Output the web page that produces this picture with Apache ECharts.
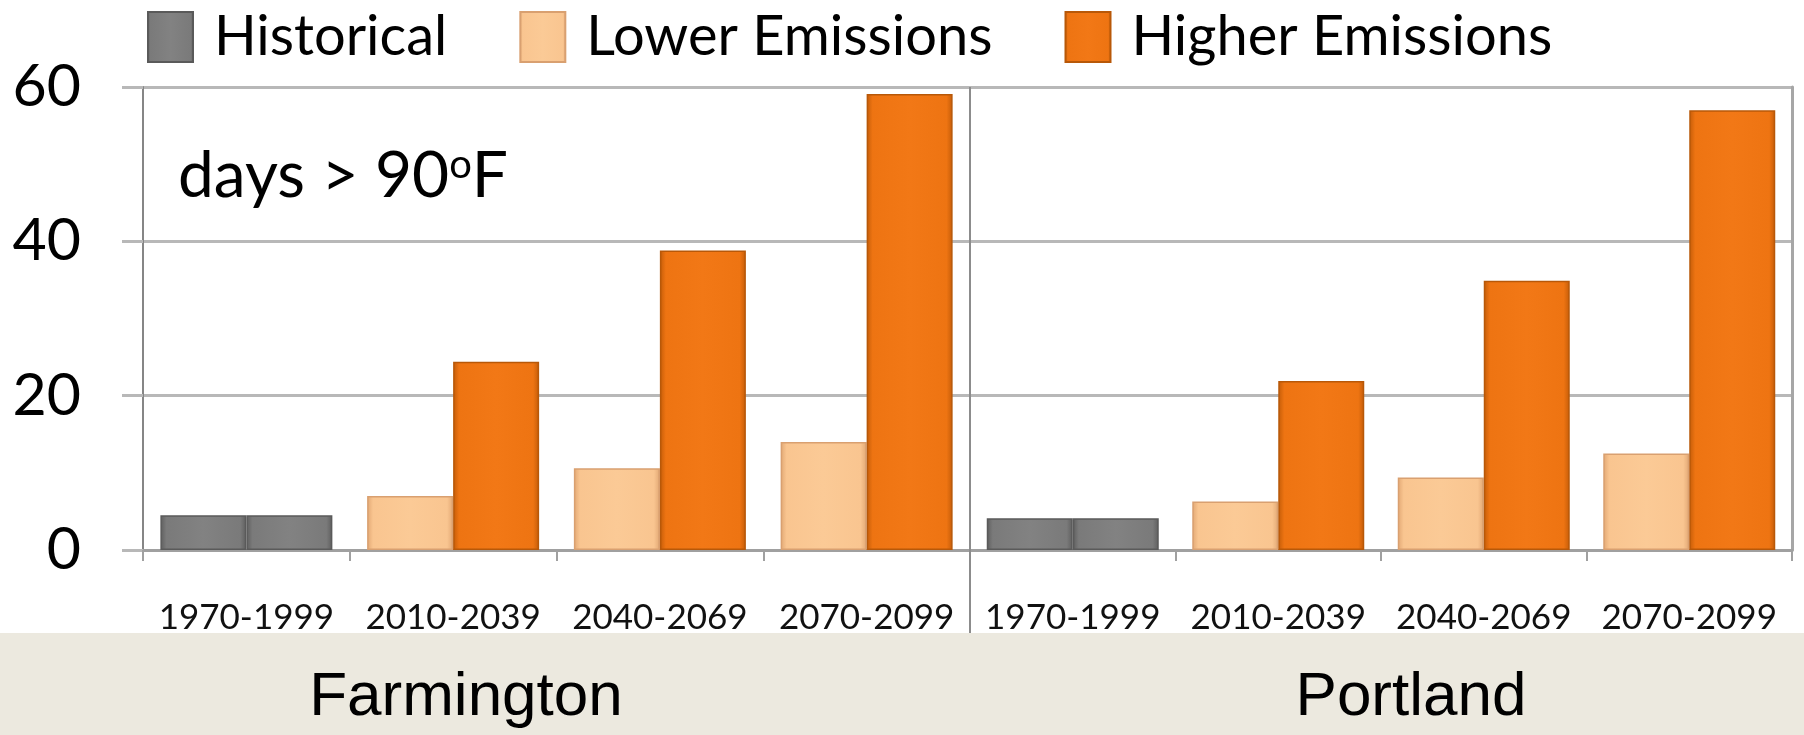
<!DOCTYPE html>
<html>
<head>
<meta charset="utf-8">
<script src="https://cdn.jsdelivr.net/npm/echarts@6/dist/echarts.min.js"></script>
<style>
  html, body { margin: 0; padding: 0; background: #ffffff; }
  #chart { width: 1804px; height: 735px; }
</style>
</head>
<body>
<div id="chart"></div>
<script>
// ---- data ----
const periods = ['1970-1999', '2010-2039', '2040-2069', '2070-2099'];
const cities = ['Farmington', 'Portland'];
const legendNames = ['Historical', 'Lower Emissions', 'Higher Emissions'];

const farmingtonHistorical = [4.5, null, null, null];
const farmingtonLower      = [null, 7.0, 10.6, 14.0];
const farmingtonHigher     = [null, 24.4, 38.8, 59.1];

const portlandHistorical   = [4.1, null, null, null];
const portlandLower        = [null, 6.3, 9.4, 12.5];
const portlandHigher       = [null, 21.9, 34.9, 57.0];

const yMin = 0, yMax = 60, yStep = 20;
const annotation = 'days > 90';

// ---- styles ----
function hGrad(edge, main, mid) {
  return new echarts.graphic.LinearGradient(0, 0, 1, 0, [
    { offset: 0, color: edge },
    { offset: 0.07, color: main },
    { offset: 0.5, color: mid },
    { offset: 0.93, color: main },
    { offset: 1, color: edge }
  ]);
}
const styles = {
  'Historical': { color: hGrad('#5e5e5e', '#7a7a7a', '#828282'), borderColor: '#5a5a5a' },
  'Lower Emissions': { color: hGrad('#e2a874', '#f9c590', '#fbca96'), borderColor: '#d9a070' },
  'Higher Emissions': { color: hGrad('#c45c08', '#ee7412', '#f27816'), borderColor: '#b85808' }
};

function bar(name, grid, stack, data) {
  return {
    type: 'bar', name: name, xAxisIndex: grid, yAxisIndex: grid, stack: stack + grid,
    data: data, barWidth: 86, barGap: '0%',
    itemStyle: { color: styles[name].color, borderColor: styles[name].borderColor, borderWidth: 1.5 },
    emphasis: { disabled: true }
  };
}

const series = [
  bar('Historical', 0, 'a', farmingtonHistorical),
  bar('Lower Emissions', 0, 'a', farmingtonLower),
  bar('Historical', 0, 'b', farmingtonHistorical),
  bar('Higher Emissions', 0, 'b', farmingtonHigher),
  bar('Historical', 1, 'a', portlandHistorical),
  bar('Lower Emissions', 1, 'a', portlandLower),
  bar('Historical', 1, 'b', portlandHistorical),
  bar('Higher Emissions', 1, 'b', portlandHigher)
];

const gridLine = { color: '#b8b8b8', width: 3 };
function xAxis(i) {
  return {
    type: 'category', gridIndex: i, data: periods,
    axisLine: { show: true, lineStyle: { color: '#a0a0a0', width: 3 } },
    axisTick: { show: true, length: 11, lineStyle: { color: '#a0a0a0', width: 2 } },
    axisLabel: { interval: 0, margin: 50, fontFamily: 'Lato', fontSize: 35, color: '#111111' }
  };
}
function yAxis(i) {
  return {
    type: 'value', gridIndex: i, min: yMin, max: yMax, interval: yStep,
    axisLine: { show: i === 0, lineStyle: { color: '#868686', width: 2 } },
    axisTick: { show: i === 0, length: 21, lineStyle: gridLine },
    splitLine: { show: true, lineStyle: gridLine },
    axisLabel: { show: i === 0, margin: 62, fontFamily: 'Lato', fontSize: 59, color: '#000000', padding: [20, 0, 0, 0] }
  };
}

const option = {
  animation: false,
  backgroundColor: '#ffffff',
  legend: {
    data: legendNames, left: 147, top: 9, padding: 0,
    icon: 'rect', itemWidth: 45, itemHeight: 50, itemGap: 72,
    textStyle: { fontFamily: 'Lato', fontSize: 56, color: '#000000', padding: [0, 0, 0, 16] },
    selectedMode: false
  },
  grid: [
    { left: 143, right: 834, top: 87, bottom: 185 },
    { left: 970, right: 12, top: 87, bottom: 185 }
  ],
  xAxis: [xAxis(0), xAxis(1)],
  yAxis: [yAxis(0), yAxis(1), {
    type: 'value', gridIndex: 1, position: 'right', min: yMin, max: yMax, interval: yStep,
    axisLine: { show: true, lineStyle: { color: '#a6a6a6', width: 3 } },
    axisTick: { show: false }, axisLabel: { show: false }, splitLine: { show: false }
  }],
  series: series,
  graphic: [
    { type: 'rect', z: -10, shape: { x: 0, y: 633, width: 1804, height: 102 }, style: { fill: '#ece9df' } },
    { type: 'line', z: 10, shape: { x1: 970, y1: 87, x2: 970, y2: 633 }, style: { stroke: '#8c8c8c', lineWidth: 2 } },
    { type: 'text', z: 10, x: 178, y: 176, style: {
        text: annotation + '{sup|o}F', font: '64px Lato', fill: '#000000', verticalAlign: 'middle',
        rich: { sup: { fontFamily: 'Lato', fontSize: 40, fill: '#000000', padding: [0, 0, 22, 0] } }
    } },
    { type: 'text', z: 10, x: 466, y: 698, style: { text: cities[0], font: '62px "Liberation Sans"', fill: '#000000', align: 'center', verticalAlign: 'middle' } },
    { type: 'text', z: 10, x: 1411, y: 698, style: { text: cities[1], font: '62px "Liberation Sans"', fill: '#000000', align: 'center', verticalAlign: 'middle' } }
  ]
};

const chart = echarts.init(document.getElementById('chart'), null, { renderer: 'canvas' });
chart.setOption(option);
</script>
</body>
</html>
